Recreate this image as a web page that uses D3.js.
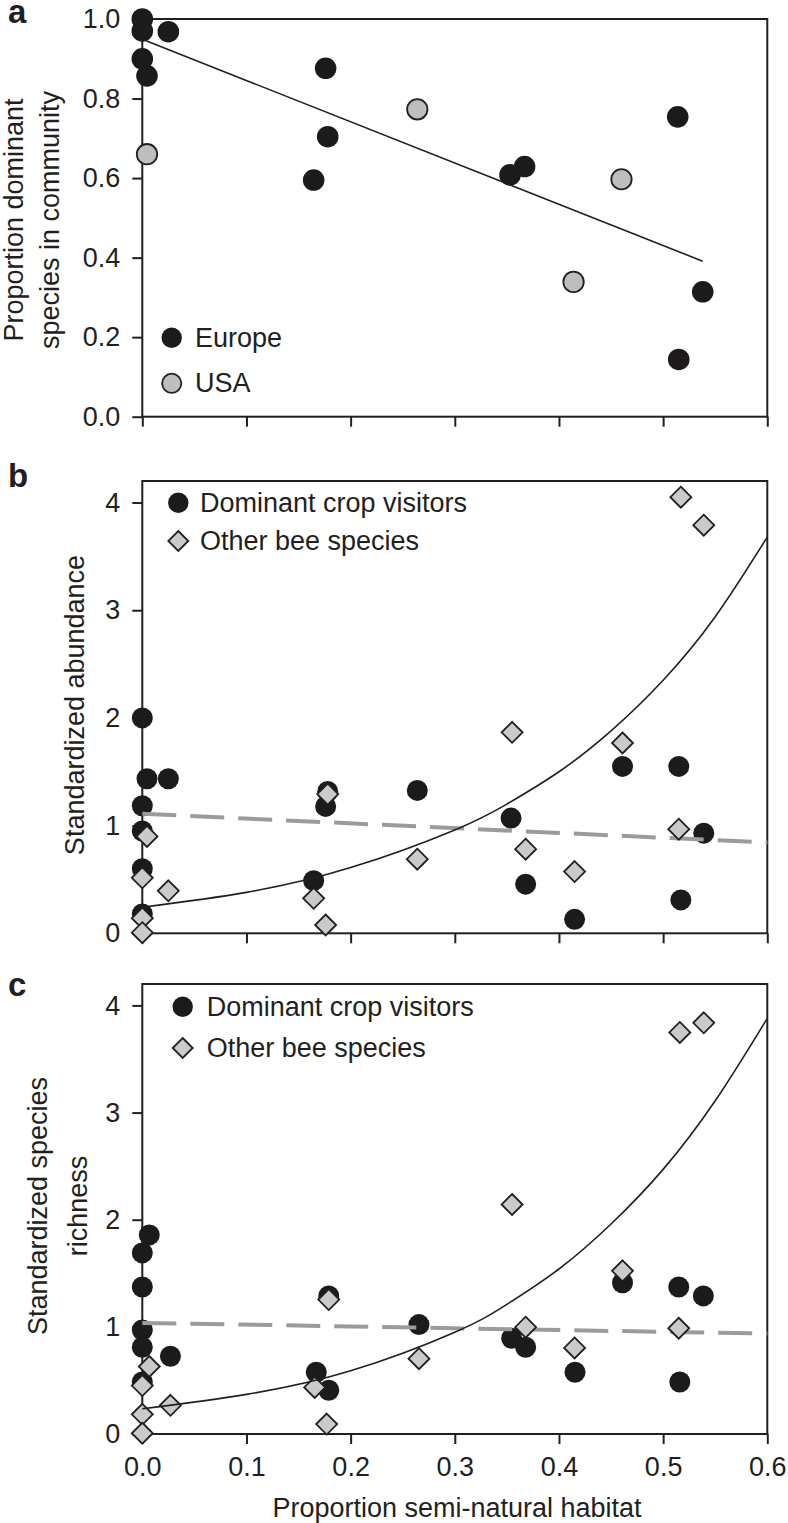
<!DOCTYPE html>
<html><head><meta charset="utf-8">
<script src="https://cdn.jsdelivr.net/npm/d3@7/dist/d3.min.js"></script>
<style>
body{margin:0;background:#fff}
text{font-family:"Liberation Sans",Arial,Helvetica,sans-serif;fill:#231f20}
</style>
</head><body>
<svg id="chart" width="788" height="1523"></svg>
<script>
// ---------------- data ----------------
const xTicks = [0, 0.1, 0.2, 0.3, 0.4, 0.5, 0.6];
const yTicksA = [0, 0.2, 0.4, 0.6, 0.8, 1.0];
const yTicksBC = [0, 1, 2, 3, 4];

// Panel a: proportion of dominant species in community
const europeX = [0, 0, 0.025, 0, 0.0045, 0.176, 0.178, 0.1645, 0.353, 0.367, 0.514, 0.538, 0.515];
const europeY = [1.0, 0.97, 0.968, 0.90, 0.857, 0.876, 0.704, 0.595, 0.608, 0.629, 0.754, 0.314, 0.144];
const usaX = [0.0045, 0.264, 0.460, 0.414];
const usaY = [0.66, 0.773, 0.597, 0.339];
const fitAx = [0, 0.538];
const fitAy = [0.949, 0.391];

// Panel b: standardized abundance
const domBx = [0, 0.0045, 0.025, 0, 0, 0, 0, 0.1645, 0.178, 0.176, 0.264, 0.354, 0.368, 0.415, 0.461, 0.515, 0.539, 0.517];
const domBy = [2.0, 1.435, 1.435, 1.184, 0.95, 0.60, 0.18, 0.489, 1.317, 1.178, 1.327, 1.07, 0.456, 0.13, 1.55, 1.55, 0.93, 0.31];
const othBx = [0.0045, 0, 0.025, 0, 0, 0.1645, 0.178, 0.176, 0.264, 0.355, 0.368, 0.415, 0.461, 0.517, 0.539, 0.515];
const othBy = [0.9, 0.515, 0.395, 0.14, 0.006, 0.325, 1.293, 0.077, 0.688, 1.866, 0.781, 0.573, 1.767, 4.05, 3.79, 0.967];
const curveBx = [0, 0.1, 0.2, 0.3, 0.35, 0.4, 0.45, 0.5, 0.55, 0.6];
const curveBy = [0.242, 0.38, 0.61, 0.96, 1.20, 1.50, 1.88, 2.35, 2.94, 3.68];
const dashBx = [0, 0.6];
const dashBy = [1.11, 0.843];

// Panel c: standardized species richness
const domCx = [0.0067, 0, 0, 0, 0, 0, 0.027, 0.167, 0.179, 0.179, 0.2656, 0.3546, 0.368, 0.4154, 0.461, 0.515, 0.5386, 0.516];
const domCy = [1.858, 1.69, 1.372, 0.971, 0.81, 0.486, 0.726, 0.576, 0.408, 1.289, 1.021, 0.894, 0.81, 0.576, 1.412, 1.372, 1.289, 0.485];
const othCx = [0.0067, 0, 0, 0, 0.027, 0.1655, 0.179, 0.177, 0.2656, 0.355, 0.368, 0.415, 0.461, 0.516, 0.539, 0.515];
const othCy = [0.63, 0.452, 0.184, 0.007, 0.268, 0.435, 1.255, 0.093, 0.703, 2.142, 0.997, 0.803, 1.523, 3.748, 3.838, 0.987];
const curveCx = [0, 0.1, 0.2, 0.3, 0.35, 0.4, 0.45, 0.5, 0.55, 0.6];
const curveCy = [0.235, 0.37, 0.59, 0.95, 1.21, 1.54, 1.96, 2.47, 3.11, 3.88];
const dashCx = [0, 0.6];
const dashCy = [1.037, 0.937];

// ---------------- layout ----------------
const INK = "#231f20";
const svg = d3.select("#chart");
svg.append("rect").attr("width", 788).attr("height", 1523).attr("fill", "#fff");

const x = d3.scaleLinear().domain([0, 0.6]).range([142.3, 767.3]);
const zip = (a, b) => a.map((v, i) => [v, b[i]]);
const diamond = r => `M0,${-r}L${r},0L0,${r}L${-r},0Z`;

function panel(opt) {
  const y = d3.scaleLinear().domain(opt.yDomain).range([opt.bottom, opt.top]);
  const g = svg.append("g");

  const ya = g.append("g").attr("transform", `translate(${x.range()[0]},0)`)
    .call(d3.axisLeft(y).tickValues(opt.yTicks).tickSize(10).tickPadding(12).tickFormat(opt.yFmt));
  ya.select(".domain").remove();
  ya.selectAll("line").attr("stroke", INK).attr("stroke-width", 2);
  ya.selectAll("text").attr("font-size", 27).attr("fill", INK)
    .attr("font-family", '"Liberation Sans",Arial,sans-serif');

  const xa = g.append("g").attr("transform", `translate(0,${opt.bottom})`)
    .call(d3.axisBottom(x).tickValues(xTicks).tickSize(10).tickPadding(13).tickFormat(opt.xLabels ? d3.format(".1f") : () => ""));
  xa.select(".domain").remove();
  xa.selectAll("line").attr("stroke", INK).attr("stroke-width", 2);
  xa.selectAll("text").attr("font-size", 27).attr("fill", INK)
    .attr("font-family", '"Liberation Sans",Arial,sans-serif');

  g.append("rect").attr("x", x.range()[0]).attr("y", opt.top)
    .attr("width", x.range()[1] - x.range()[0]).attr("height", opt.bottom - opt.top)
    .attr("fill", "none").attr("stroke", INK).attr("stroke-width", 2);

  g.append("text").attr("x", 8).attr("y", opt.letterY).attr("font-size", 33)
    .attr("font-weight", "bold").attr("fill", INK).text(opt.letter);

  opt.titleLines.forEach((t, i) => {
    g.append("text").attr("transform", `translate(${opt.titleX[i]},${opt.titleCY}) rotate(-90)`)
      .attr("text-anchor", "middle").attr("dominant-baseline", "central")
      .attr("font-size", 27).attr("fill", INK).text(t);
  });
  return {g, y};
}

const line = (y) => d3.line().x(d => x(d[0])).y(d => y(d[1]));

// ---------- panel a ----------
{
  const {g, y} = panel({top: 19, bottom: 416.7, yDomain: [0, 1], yTicks: yTicksA, yFmt: d3.format(".1f"),
    xLabels: false, letter: "a", letterY: 23, titleLines: ["Proportion dominant", "species in community"],
    titleX: [14, 50], titleCY: 220});
  g.selectAll(".eu").data(zip(europeX, europeY)).join("circle")
    .attr("cx", d => x(d[0])).attr("cy", d => y(d[1])).attr("r", 10.8).attr("fill", "#1c1a1b");
  g.selectAll(".us").data(zip(usaX, usaY)).join("circle")
    .attr("cx", d => x(d[0])).attr("cy", d => y(d[1])).attr("r", 10.2)
    .attr("fill", "#bdbec0").attr("stroke", INK).attr("stroke-width", 1.8);
  g.append("path").datum(zip(fitAx, fitAy)).attr("d", line(y))
    .attr("fill", "none").attr("stroke", INK).attr("stroke-width", 1.6);
  g.append("circle").attr("cx", 171.7).attr("cy", 337.7).attr("r", 10.2).attr("fill", "#1c1a1b");
  g.append("text").attr("x", 195).attr("y", 337.7).attr("dominant-baseline", "central")
    .attr("font-size", 27).text("Europe");
  g.append("circle").attr("cx", 171.7).attr("cy", 383.3).attr("r", 9.6)
    .attr("fill", "#bdbec0").attr("stroke", INK).attr("stroke-width", 1.8);
  g.append("text").attr("x", 195).attr("y", 383.3).attr("dominant-baseline", "central")
    .attr("font-size", 27).text("USA");
}

function bcPanel(opt, domX, domY, othX, othY, cx, cy, dx, dy) {
  const {g, y} = panel(opt);
  g.selectAll(".dom").data(zip(domX, domY)).join("circle")
    .attr("cx", d => x(d[0])).attr("cy", d => y(d[1])).attr("r", 10.5).attr("fill", "#1c1a1b");
  g.append("path").datum(zip(dx, dy)).attr("d", line(y))
    .attr("fill", "none").attr("stroke", "#9b9b9d").attr("stroke-width", 4)
    .attr("stroke-dasharray", "34,14");
  g.selectAll(".oth").data(zip(othX, othY)).join("path")
    .attr("transform", d => `translate(${x(d[0])},${y(d[1])})`).attr("d", diamond(10.5))
    .attr("fill", "#c9cacc").attr("stroke", INK).attr("stroke-width", 1.8);
  g.append("path").datum(zip(cx, cy)).attr("d", line(y).curve(d3.curveNatural))
    .attr("fill", "none").attr("stroke", INK).attr("stroke-width", 1.6);
  const L = opt.legend;
  g.append("circle").attr("cx", L.x).attr("cy", L.y1).attr("r", 10.2).attr("fill", "#1c1a1b");
  g.append("text").attr("x", L.tx).attr("y", L.y1).attr("dominant-baseline", "central")
    .attr("font-size", 27).text("Dominant crop visitors");
  g.append("path").attr("transform", `translate(${L.x},${L.y2})`).attr("d", diamond(10))
    .attr("fill", "#c9cacc").attr("stroke", INK).attr("stroke-width", 1.8);
  g.append("text").attr("x", L.tx).attr("y", L.y2).attr("dominant-baseline", "central")
    .attr("font-size", 27).text("Other bee species");
}

// ---------- panel b ----------
bcPanel({top: 481, bottom: 933.3, yDomain: [0, 4.2], yTicks: yTicksBC, yFmt: d3.format("d"),
  xLabels: false, letter: "b", letterY: 487, titleLines: ["Standardized abundance"], titleX: [75], titleCY: 705,
  legend: {x: 178.3, y1: 502.7, y2: 541, tx: 200}},
  domBx, domBy, othBx, othBy, curveBx, curveBy, dashBx, dashBy);

// ---------- panel c ----------
bcPanel({top: 984, bottom: 1434, yDomain: [0, 4.2], yTicks: yTicksBC, yFmt: d3.format("d"),
  xLabels: true, letter: "c", letterY: 996, titleLines: ["Standardized species", "richness"], titleX: [38, 78], titleCY: 1206,
  legend: {x: 182.7, y1: 1006.7, y2: 1048, tx: 206.7}},
  domCx, domCy, othCx, othCy, curveCx, curveCy, dashCx, dashCy);

// x axis title
svg.append("text").attr("x", 457).attr("y", 1508).attr("text-anchor", "middle")
  .attr("dominant-baseline", "central").attr("font-size", 27).attr("fill", INK)
  .text("Proportion semi-natural habitat");
</script>
</body></html>
